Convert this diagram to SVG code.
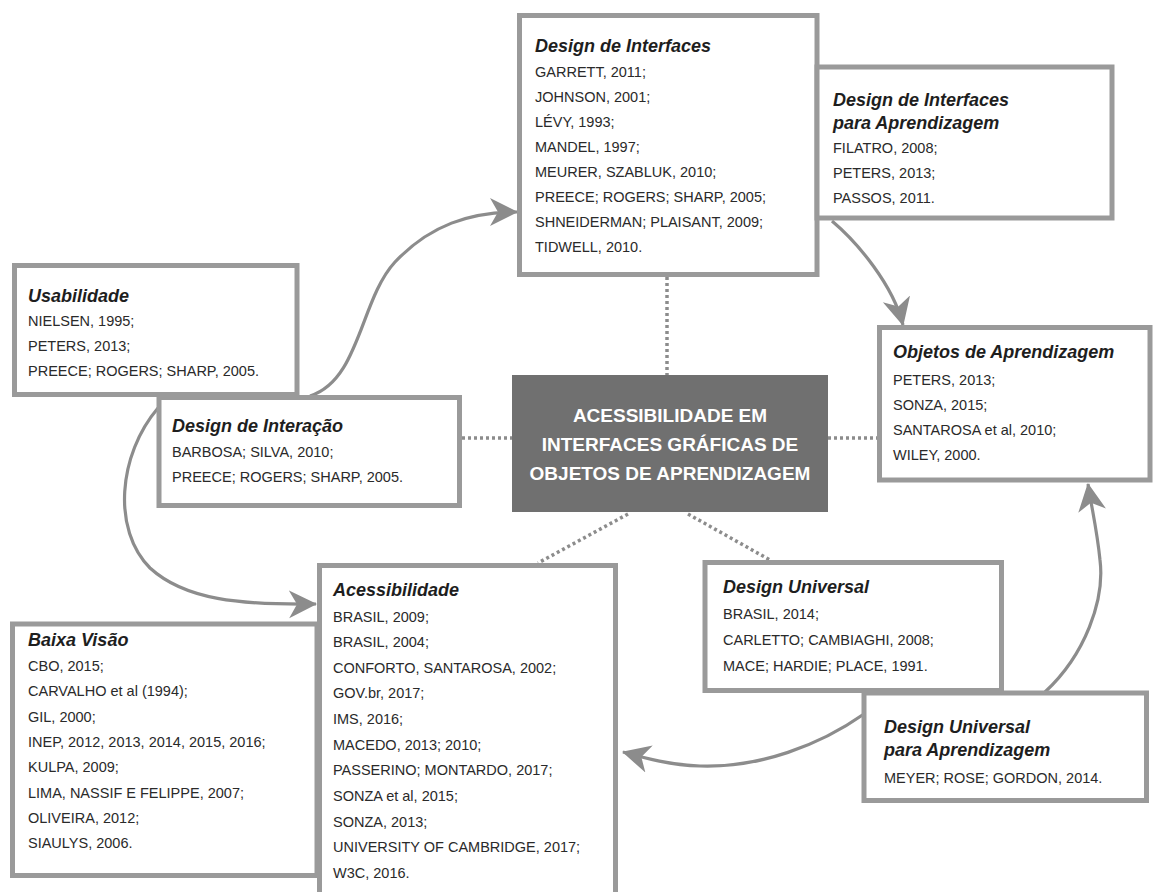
<svg xmlns="http://www.w3.org/2000/svg" width="1165" height="892" viewBox="0 0 1165 892">
<style>
.box{fill:#fff;stroke:#9a9a9a;stroke-width:5}
.t{font-family:"Liberation Sans",Arial,sans-serif;font-size:18px;font-weight:bold;font-style:italic;fill:#1e1e1e}
.b{font-family:"Liberation Sans",Arial,sans-serif;font-size:14.5px;fill:#2a2a2a}
.c{font-family:"Liberation Sans",Arial,sans-serif;font-size:19px;font-weight:bold;fill:#fff;text-anchor:middle}
.arr{fill:none;stroke:#8c8c8c;stroke-width:3.2;marker-end:url(#ah)}
.dot{fill:none;stroke:#8c8c8c;stroke-width:3.5;stroke-dasharray:3 3}
</style>
<defs>
<marker id="ah" viewBox="0 0 28 30" refX="27" refY="15" markerWidth="28" markerHeight="30" markerUnits="userSpaceOnUse" orient="auto">
<path d="M0,1 L28,15 L0,29 L8,15 Z" fill="#8c8c8c"/>
</marker>
</defs>
<rect width="1165" height="892" fill="#fff"/>
<g id="connectors">
<path class="dot" d="M667 277 L667 375"/>
<path class="dot" d="M462 438 L512 438"/>
<path class="dot" d="M828 438 L877 438"/>
<path class="dot" d="M628 514 L538 563"/>
<path class="dot" d="M688 514 L770 560"/>
<path class="arr" d="M310 396 C360 380, 360 300, 395 262 C430 225, 470 212, 517 212"/>
<path class="arr" d="M832 221 C858 243, 893 285, 903 325"/>
<path class="arr" d="M158 408 C118 455, 112 530, 150 568 C185 600, 240 605, 316 604"/>
<path class="arr" d="M1045 692 C1085 655, 1105 600, 1100 560 C1097 530, 1092 510, 1088 484"/>
<path class="arr" d="M864 714 C820 745, 760 768, 700 766 C670 765, 645 758, 623 752"/>
</g>
<g id="design-interfaces">
<rect class="box" x="519.5" y="15.5" width="297.5" height="259"/>
<text class="t" x="535" y="52">Design de Interfaces</text>
<text class="b" x="535" y="77">GARRETT, 2011;</text>
<text class="b" x="535" y="102">JOHNSON, 2001;</text>
<text class="b" x="535" y="127">LÉVY, 1993;</text>
<text class="b" x="535" y="152">MANDEL, 1997;</text>
<text class="b" x="535" y="177">MEURER, SZABLUK, 2010;</text>
<text class="b" x="535" y="202">PREECE; ROGERS; SHARP, 2005;</text>
<text class="b" x="535" y="227">SHNEIDERMAN; PLAISANT, 2009;</text>
<text class="b" x="535" y="252">TIDWELL, 2010.</text>
</g>
<g id="design-interfaces-aprendizagem">
<rect class="box" x="817" y="67" width="295" height="151"/>
<text class="t" x="833" y="106">Design de Interfaces</text>
<text class="t" x="833" y="129">para Aprendizagem</text>
<text class="b" x="833" y="153">FILATRO, 2008;</text>
<text class="b" x="833" y="178">PETERS, 2013;</text>
<text class="b" x="833" y="203">PASSOS, 2011.</text>
</g>
<g id="usabilidade">
<rect class="box" x="14.5" y="265.5" width="282.5" height="129"/>
<text class="t" x="28" y="302">Usabilidade</text>
<text class="b" x="28" y="326">NIELSEN, 1995;</text>
<text class="b" x="28" y="351">PETERS, 2013;</text>
<text class="b" x="28" y="376">PREECE; ROGERS; SHARP, 2005.</text>
</g>
<g id="design-interacao">
<rect class="box" x="159" y="397.5" width="300.5" height="108"/>
<text class="t" x="172" y="432">Design de Interação</text>
<text class="b" x="172" y="457">BARBOSA; SILVA, 2010;</text>
<text class="b" x="172" y="482">PREECE; ROGERS; SHARP, 2005.</text>
</g>
<g id="centro">
<rect x="512" y="375" width="316" height="137" fill="#707070"/>
<text class="c" x="670" y="422">ACESSIBILIDADE EM</text>
<text class="c" x="670" y="451">INTERFACES GRÁFICAS DE</text>
<text class="c" x="670" y="480">OBJETOS DE APRENDIZAGEM</text>
</g>
<g id="objetos">
<rect class="box" x="879.5" y="327.5" width="270.5" height="152.5"/>
<text class="t" x="893" y="358">Objetos de Aprendizagem</text>
<text class="b" x="893" y="385">PETERS, 2013;</text>
<text class="b" x="893" y="410">SONZA, 2015;</text>
<text class="b" x="893" y="435">SANTAROSA et al, 2010;</text>
<text class="b" x="893" y="460">WILEY, 2000.</text>
</g>
<g id="baixa-visao">
<rect class="box" x="12.5" y="624" width="304.5" height="251.5"/>
<text class="t" x="28" y="646">Baixa Visão</text>
<text class="b" x="28" y="671">CBO, 2015;</text>
<text class="b" x="28" y="696">CARVALHO et al (1994);</text>
<text class="b" x="28" y="722">GIL, 2000;</text>
<text class="b" x="28" y="747">INEP, 2012, 2013, 2014, 2015, 2016;</text>
<text class="b" x="28" y="772">KULPA, 2009;</text>
<text class="b" x="28" y="798">LIMA, NASSIF E FELIPPE, 2007;</text>
<text class="b" x="28" y="823">OLIVEIRA, 2012;</text>
<text class="b" x="28" y="848">SIAULYS, 2006.</text>
</g>
<g id="acessibilidade">
<rect class="box" x="319.5" y="565.5" width="296" height="334.5"/>
<text class="t" x="333" y="596">Acessibilidade</text>
<text class="b" x="333" y="622">BRASIL, 2009;</text>
<text class="b" x="333" y="647">BRASIL, 2004;</text>
<text class="b" x="333" y="673">CONFORTO, SANTAROSA, 2002;</text>
<text class="b" x="333" y="698">GOV.br, 2017;</text>
<text class="b" x="333" y="724">IMS, 2016;</text>
<text class="b" x="333" y="750">MACEDO, 2013; 2010;</text>
<text class="b" x="333" y="775">PASSERINO; MONTARDO, 2017;</text>
<text class="b" x="333" y="801">SONZA et al, 2015;</text>
<text class="b" x="333" y="827">SONZA, 2013;</text>
<text class="b" x="333" y="852">UNIVERSITY OF CAMBRIDGE, 2017;</text>
<text class="b" x="333" y="878">W3C, 2016.</text>
</g>
<g id="design-universal">
<rect class="box" x="705" y="562.5" width="296.5" height="128"/>
<text class="t" x="723" y="593">Design Universal</text>
<text class="b" x="723" y="619">BRASIL, 2014;</text>
<text class="b" x="723" y="645">CARLETTO; CAMBIAGHI, 2008;</text>
<text class="b" x="723" y="671">MACE; HARDIE; PLACE, 1991.</text>
</g>
<g id="design-universal-aprendizagem">
<rect class="box" x="864" y="693" width="282.5" height="107.5"/>
<text class="t" x="884" y="733">Design Universal</text>
<text class="t" x="884" y="756">para Aprendizagem</text>
<text class="b" x="884" y="783">MEYER; ROSE; GORDON, 2014.</text>
</g>
</svg>
